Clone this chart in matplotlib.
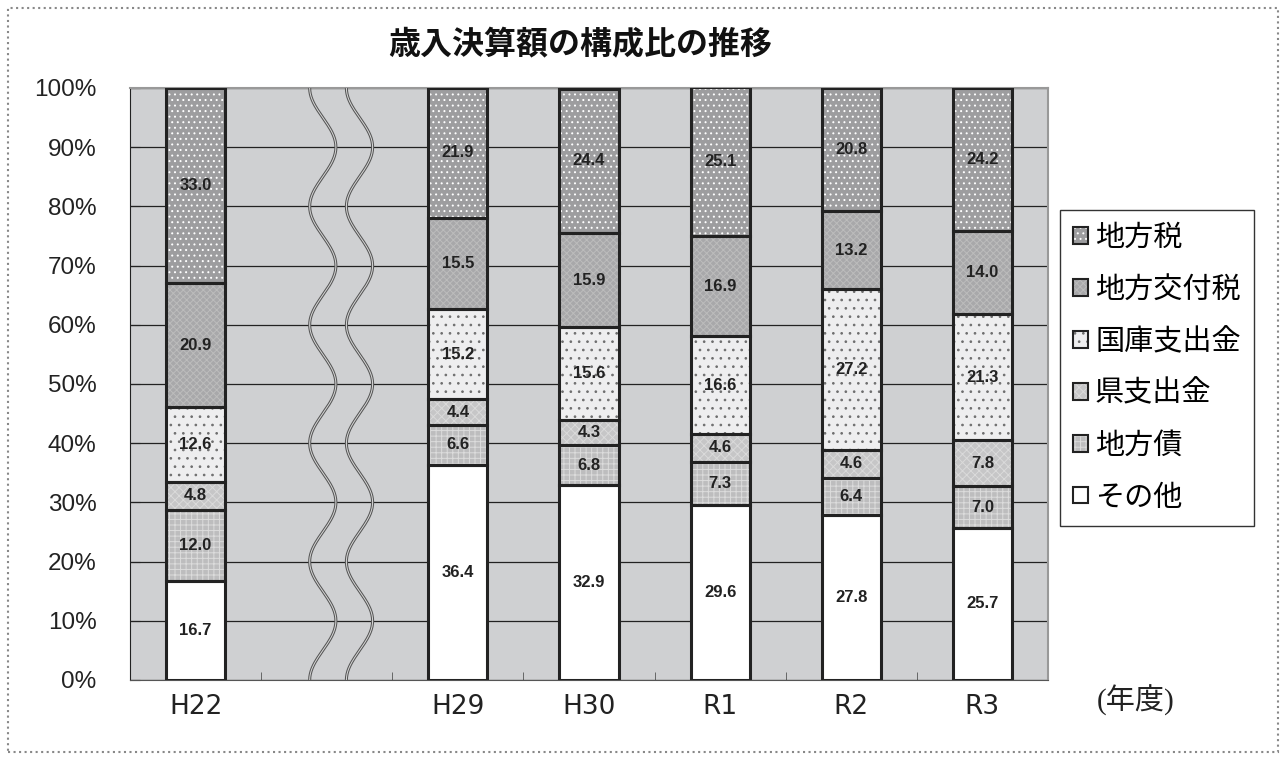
import matplotlib
matplotlib.use("Agg")
import matplotlib.pyplot as plt
from matplotlib.patches import Patch, Rectangle
import numpy as np

plt.rcParams['font.family'] = ['Noto Sans CJK JP', 'DejaVu Sans']
plt.rcParams['hatch.linewidth'] = 0.7

years = ["H22", "H29", "H30", "R1", "R2", "R3"]
slots = [0, 2, 3, 4, 5, 6]   # H22 sits apart, one empty slot before H29

# bottom to top
items = ["その他", "地方債", "県支出金", "国庫支出金", "地方交付税", "地方税"]
sonota   = [16.7, 36.4, 32.9, 29.6, 27.8, 25.7]
chihosai = [12.0, 6.6, 6.8, 7.3, 6.4, 7.0]
ken      = [4.8, 4.4, 4.3, 4.6, 4.6, 7.8]
kokko    = [12.6, 15.2, 15.6, 16.6, 27.2, 21.3]
kofu     = [20.9, 15.5, 15.9, 16.9, 13.2, 14.0]
chihozei = [33.0, 21.9, 24.4, 25.1, 20.8, 24.2]
series = [sonota, chihosai, ken, kokko, kofu, chihozei]

faces   = ['white', '#bdbdbe', '#c6c6c7', '#eeeeef', '#a8a8aa', '#9d9d9f']
hatches = [None, '+++', 'xxxx', '..', 'xxxxx', '...']
hcolors = ['white', '#dcdcdc', '#dadada', '#6e6e6e', '#bcbcbc', 'white']

fig = plt.figure(figsize=(12.85, 7.6), dpi=100)
ax = fig.add_axes([130/1285, 80/760, 918/1285, 592/760])
ax.set_facecolor('#cfd0d2')

bottom = np.zeros(len(years))
handles = []
for vals, name, fc, h, hc in zip(series, items, faces, hatches, hcolors):
    ax.bar(slots, vals, 0.45, bottom=bottom, color=fc, hatch=h,
           edgecolor=hc, linewidth=0, zorder=2)
    cont = ax.bar(slots, vals, 0.45, bottom=bottom, fill=False,
                  edgecolor='#222222', linewidth=2.2, zorder=3)
    ax.bar_label(cont, labels=['%.1f' % v for v in vals], label_type='center',
                 fontsize=12, fontweight='bold', color='#222222',
                 family='Liberation Sans')
    handles.append((Patch(facecolor=fc, hatch=h, edgecolor=hc, linewidth=0),
                    Patch(fill=False, edgecolor='#222222', linewidth=1.5)))
    bottom += np.array(vals)

# wavy break lines in the empty slot
yy = np.linspace(0, 100, 400)
for xc in [0.97, 1.25]:
    xx = xc + 0.1 * np.cos(np.pi * (yy - 90) / 10)
    ax.plot(xx, yy, color='#555555', lw=2.2, zorder=4, solid_capstyle='butt')
    ax.plot(xx, yy, color='#d8d8d8', lw=0.7, zorder=5, solid_capstyle='butt')

ax.set_xlim(-0.5, 6.5)
ax.set_ylim(0, 100)
ax.set_yticks(np.arange(0, 101, 10))
ax.set_yticklabels(['%d%%' % v for v in range(0, 101, 10)],
                   family='Liberation Sans', fontsize=17.5, color='#222222')
ax.set_xticks(slots)
ax.set_xticklabels(years, family='DejaVu Sans', fontsize=19, color='#222222')
ax.set_xticks(np.arange(0.5, 6.5, 1), minor=True)
ax.tick_params(axis='x', which='major', length=0, pad=10)
ax.tick_params(axis='x', which='minor', direction='in', length=6, color='#555555')
ax.tick_params(axis='y', direction='in', length=7, color='#222222', pad=24)
ax.yaxis.grid(True, color='#222222', lw=0.9)
ax.set_axisbelow(True)
ax.spines['left'].set_color('#222222')
ax.spines['bottom'].set_color('#555555')
ax.spines['top'].set_color('#999999')
ax.spines['right'].set_color('#999999')
ax.spines['top'].set_linewidth(1.5)
ax.spines['right'].set_linewidth(1.5)

leg = fig.legend(handles[::-1], items[::-1], loc='upper left',
                 bbox_to_anchor=(1060/1285, 1 - 210/760), fontsize=21,
                 handlelength=0.5, handleheight=0.5, handletextpad=0.25,
                 labelspacing=0.75, borderpad=0.45, borderaxespad=0,
                 fancybox=False, edgecolor='#333333', framealpha=1)
leg.get_frame().set_linewidth(1.0)

fig.text(580/1285, 1 - 45/760, '歳入決算額の構成比の推移', ha='center', va='center',
         fontsize=23, fontweight='bold', color='#111111')
fig.text(1136/1285, 1 - 700/760, '(年度)', ha='center', va='center',
         fontsize=21, color='#222222', family=['Liberation Serif', 'Noto Sans CJK JP'])

fig.patches.append(Rectangle((8/1285, 8/760), 1270/1285, 744/760,
                             transform=fig.transFigure, fill=False,
                             edgecolor='#888888', linestyle=':', linewidth=1.5))

fig.savefig('out.png', dpi=100)
